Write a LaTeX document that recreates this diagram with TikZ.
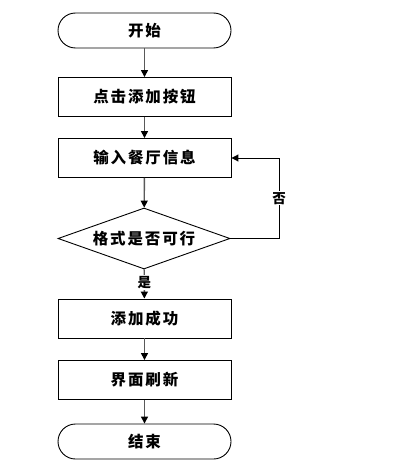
\documentclass[tikz,border=0pt]{standalone}
\usepackage{fontspec}
\newfontfamily\cjk[LetterSpace=12]{Noto Sans CJK SC}
\usetikzlibrary{shapes.geometric,arrows.meta}
\begin{document}
\begin{tikzpicture}[x=1pt,y=-1pt,
  base/.style={draw=black,line width=0.9pt,font=\cjk\bfseries\fontsize{15.5}{18}\selectfont,inner sep=0pt},
  proc/.style={base,rectangle,minimum width=173pt,minimum height=39pt},
  term/.style={base,rectangle,rounded corners=17.5pt,minimum width=173pt,minimum height=35pt},
  dec/.style={base,diamond,aspect=2.8,minimum width=172pt,minimum height=61pt},
  conn/.style={draw=black!65,line width=1.4pt,-{Triangle[length=7pt,width=7pt,color=black]}},
  lbl/.style={font=\cjk\bfseries\fontsize{13.5}{15}\selectfont,inner sep=1pt,fill=white}]
\useasboundingbox (0,0) rectangle (398,468);
\node[term] (start) at (144.5,30.5) {开始};
\node[proc] (p1) at (144.5,97) {点击添加按钮};
\node[proc] (p2) at (144.5,158) {输入餐厅信息};
\node[dec] (d) at (144,238.5) {格式是否可行};
\node[proc] (p3) at (144.5,318.5) {添加成功};
\node[proc] (p4) at (144.5,380) {界面刷新};
\node[term] (end) at (144.5,441.5) {结束};
\coordinate (c1) at (279,238.5);
\coordinate (c2) at (279,158);
\draw[conn] (start) -- (p1);
\draw[conn] (p1) -- (p2);
\draw[conn] (p2) -- (d);
\draw[conn] (d) -- node[lbl,pos=0.45]{是} (p3);
\draw[conn] (p3) -- (p4);
\draw[conn] (p4) -- (end);
\draw[conn,draw=black,line width=1pt] (d.east) -- (c1) -- node[lbl,pos=0.5]{否} (c2) -- (p2.east);
\end{tikzpicture}
\end{document}
